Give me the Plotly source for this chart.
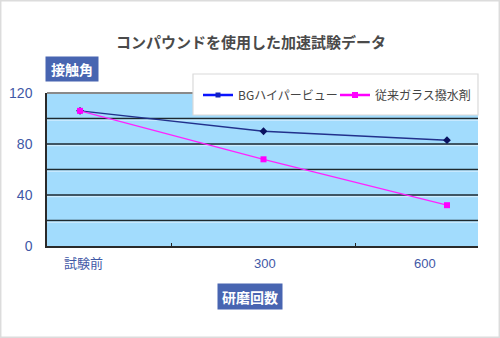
import plotly.graph_objects as go

categories = ["試験前", "300", "600"]
bg_values = [106, 90, 83]
conv_values = [106, 68, 32]
series_names = ["BGハイパービュー", "従来ガラス撥水剤"]
y_ticks = [0, 40, 80, 120]
grid_values = [20, 40, 60, 80, 100]
title_text = "コンパウンドを使用した加速試験データ"
y_title = "接触角"
x_title = "研磨回数"

FONT = "Noto Sans CJK JP"
NUMFONT = "Liberation Sans, Noto Sans CJK JP"
LABEL_BLUE = "#3f58a6"
BOX_BLUE = "#4865b1"
xs = list(range(len(categories)))

# plot area in pixels: x 47..478, y 93..246
PW, PH = 431, 153
def px_x(p):
    return (p - 47) / PW
def px_y(p):
    return (246 - p) / PH

fig = go.Figure()
fig.add_trace(go.Scatter(
    x=xs, y=bg_values, name=series_names[0], mode="lines+markers", showlegend=False,
    line=dict(color="#22318c", width=1.4),
    marker=dict(symbol="diamond", size=6, color="#0a1260"),
))
fig.add_trace(go.Scatter(
    x=xs, y=conv_values, name=series_names[1], mode="lines+markers", showlegend=False,
    line=dict(color="#ff22ff", width=1.2),
    marker=dict(symbol="square", size=6, color="#ff00ff"),
))
# legend samples (Excel-style legend keys)
fig.add_trace(go.Scatter(
    x=[None], y=[None], name=series_names[0], mode="lines+markers", legend="legend",
    line=dict(color="#0a14ff", width=2.5),
    marker=dict(symbol="square", size=5, color="#1020c0"),
))
fig.add_trace(go.Scatter(
    x=[None], y=[None], name=series_names[1], mode="lines+markers", legend="legend2",
    line=dict(color="#ff00ff", width=2.5),
    marker=dict(symbol="square", size=6, color="#ff00ff"),
))

shapes = []
for g in grid_values:
    shapes.append(dict(type="line", xref="paper", x0=0, x1=1, yref="y", y0=g, y1=g,
                       line=dict(color="#1e2a30", width=1.4), layer="below"))
    shapes.append(dict(type="line", xref="paper", x0=0, x1=1, yref="y", ysizemode="pixel",
                       yanchor=g, y0=-1.7, y1=-1.7,
                       line=dict(color="#d8f0ff", width=1), layer="below"))
# top frame of the plot
shapes.append(dict(type="line", xref="paper", x0=0, x1=1, yref="paper", y0=1, y1=1,
                   line=dict(color="#8a8a8a", width=2)))
# legend box
shapes.append(dict(type="rect", xref="paper", yref="paper", x0=px_x(193), x1=px_x(478),
                   y0=px_y(115), y1=px_y(74), fillcolor="white",
                   line=dict(color="#dadada", width=1.2), layer="above"))
# outer page border
shapes.append(dict(type="rect", xref="paper", yref="paper", x0=px_x(0.7), x1=px_x(499.3),
                   y0=px_y(337.3), y1=px_y(0.7), line=dict(color="#dcdcdc", width=1.5)))

annotations = [
    dict(text="<b>" + title_text + "</b>", xref="paper", yref="paper", x=px_x(251), y=px_y(41),
         showarrow=False, font=dict(family=FONT, size=15, color="#4a4a4a"),
         xanchor="center", yanchor="middle"),
    dict(text="<b>" + y_title + "</b>", xref="paper", yref="paper", x=px_x(71.5), y=px_y(69),
         showarrow=False, font=dict(family=FONT, size=14, color="white"),
         bgcolor=BOX_BLUE, borderpad=0, width=52, height=24,
         xanchor="center", yanchor="middle"),
    dict(text="<b>" + x_title + "</b>", xref="paper", yref="paper", x=px_x(250), y=px_y(296.5),
         showarrow=False, font=dict(family=FONT, size=14, color="white"),
         bgcolor=BOX_BLUE, borderpad=0, width=64, height=25,
         xanchor="center", yanchor="middle"),
]
label_offsets = [0.02, 0.01, -0.12]
for x, lab, off in zip(xs, categories, label_offsets):
    annotations.append(dict(text=lab, x=x + off, xref="x", yref="paper", y=px_y(263),
                            showarrow=False, xanchor="center", yanchor="middle",
                            font=dict(family=NUMFONT, size=13, color=LABEL_BLUE)))

legend_style = dict(orientation="h", xanchor="left", yanchor="middle",
                    bgcolor="rgba(0,0,0,0)", borderwidth=0, itemwidth=30,
                    font=dict(family=FONT, size=12, color="#444444"))

fig.update_layout(
    width=500, height=338,
    margin=dict(l=47, r=22, t=93, b=92, autoexpand=False),
    paper_bgcolor="white", plot_bgcolor="#a2dcfd",
    font=dict(family=FONT),
    showlegend=True,
    legend=dict(legend_style, x=px_x(198), y=px_y(95)),
    legend2=dict(legend_style, x=px_x(335), y=px_y(95)),
    xaxis=dict(range=[-0.18, 2.169], showgrid=False, zeroline=False,
               tickvals=[0.5, 1.5], ticktext=["", ""], ticks="inside", ticklen=3,
               tickcolor="#222", showline=True, linecolor="#2a2a2a", linewidth=1.5,
               fixedrange=True),
    yaxis=dict(range=[0, 120], tickvals=y_ticks, showgrid=False, zeroline=False,
               showline=True, linecolor="#2a2a2a", linewidth=1.5, ticks="",
               tickfont=dict(family=NUMFONT, size=14, color=LABEL_BLUE), ticklabelstandoff=10,
               fixedrange=True),
    shapes=shapes, annotations=annotations,
)

fig.write_html("out.html")
